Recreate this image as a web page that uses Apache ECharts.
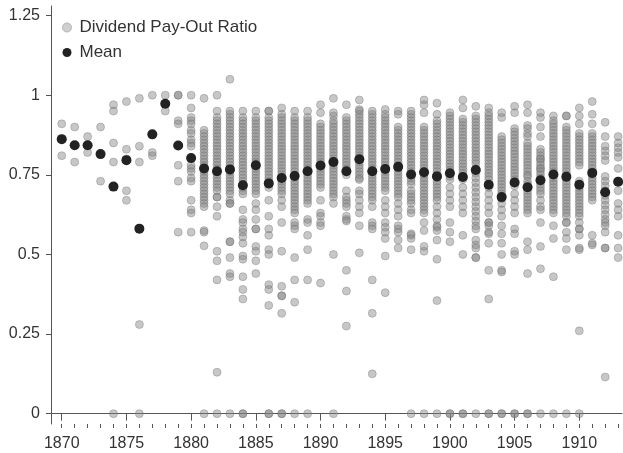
<!DOCTYPE html>
<html>
<head>
<meta charset="utf-8">
<title>Dividend Pay-Out Ratio</title>
<script src="https://cdn.jsdelivr.net/npm/echarts@6/dist/echarts.min.js"></script>
<style>
  html, body { margin: 0; padding: 0; background: #fff; }
  #chart { width: 623px; height: 453px; }
</style>
</head>
<body>
<div id="chart"></div>
<script>
// years on the x axis, one column of firms per year
const years = []
for (let y = 1870; y <= 1913; y++) years.push(y)

const yearTicks = [1870, 1875, 1880, 1885, 1890, 1895, 1900, 1905, 1910]
const ratioTicks = [0, 0.25, 0.5, 0.75, 1, 1.25]

// mean pay-out ratio per year (black dots)
const meanRatio = [
  0.862, 0.843, 0.843, 0.815, 0.713, 0.796, 0.581, 0.877, 0.973, 0.842,
  0.803, 0.770, 0.761, 0.767, 0.717, 0.780, 0.723, 0.740, 0.746, 0.761,
  0.779, 0.790, 0.761, 0.799, 0.761, 0.768, 0.775, 0.751, 0.758, 0.745,
  0.755, 0.743, 0.765, 0.719, 0.680, 0.726, 0.711, 0.733, 0.751, 0.744,
  0.719, 0.756, 0.695, 0.728
]

// individual firm ratios per year, in percent
const payoutByYear = [
  [91, 81],
  [90, 79],
  [87, 82],
  [90, 73],
  [97, 95, 85, 79, 0],
  [98, 83, 80, 70, 67],
  [99, 84, 79, 28, 0],
  [100, 82, 81],
  [100, 95],
  [100, 100, 92, 91, 78, 73, 57],
  // 1880
  [100, 96, 93, 92, 91, 89, 88, 86, 85, 84, 80, 78, 77, 76, 74, 73, 67, 64, 63, 57],
  [99, 89, 88, 87, 86, 85, 84, 83, 82, 81, 80, 79, 78, 77, 76, 75, 74, 73, 72, 71, 70, 69, 68, 67, 66, 65, 57.5, 57, 52.7, 0],
  [100, 95, 93, 92, 91, 90, 89, 88, 87, 86, 85, 84, 83, 82, 81, 80, 79, 78, 77, 76, 75, 74, 73, 72, 71, 70, 68, 68, 65, 62, 51, 48, 42, 13, 0],
  [105, 95, 94, 93, 92, 91, 90, 89, 88, 87, 86, 85, 84, 83, 82, 81, 80, 79, 78, 77, 76, 75, 74, 73, 72, 71, 70, 69, 67, 66, 66, 54, 54, 49, 44, 43, 0],
  [95, 93, 92, 91, 90, 89, 88, 87, 86, 85, 84, 83, 82, 81, 80, 79, 78, 77, 76, 75, 74, 73, 72, 71, 70, 69, 64, 61, 60, 58, 57, 55.5, 53.5, 49.5, 48.5, 43, 39, 36, 0, 0],
  [95, 93, 92, 91, 90, 89, 88, 87, 86, 85, 84, 83, 82, 81, 80, 79, 78, 77, 76, 75, 74, 73, 72, 71, 70, 69, 66, 64, 61, 58, 58, 52.5, 51, 48, 44],
  [95, 95, 93, 92, 91, 90, 89, 88, 87, 86, 85, 84, 83, 82, 81, 80, 79, 78, 77, 76, 75, 74, 73, 72, 71, 67, 62, 58, 56, 51.5, 50, 40.5, 39, 34, 0, 0],
  [96, 94, 93, 92, 91, 90, 89, 88, 87, 86, 85, 84, 83, 82, 81, 80, 79, 78, 77, 76, 75, 74, 73, 72, 71, 70, 69, 67, 65, 60, 51, 40, 37, 37, 31.5, 0, 0],
  [95, 93, 92, 91, 90, 89, 88, 87, 86, 85, 84, 83, 82, 81, 80, 79, 78, 77, 76, 75, 74, 73, 72, 71, 70, 69, 68, 67, 66, 65, 64, 63, 60, 59, 58, 49, 42, 35, 0],
  [95, 93, 92, 91, 90, 89, 88, 87, 86, 85, 84, 83, 82, 81, 80, 79, 78, 77, 76, 75, 74, 73, 72, 71, 70, 69, 68, 67, 66, 61, 60, 56, 51.5, 42, 0],
  // 1890
  [97, 94.5, 91, 90, 89, 88, 87, 86, 85, 84, 83, 82, 81, 80, 79, 78, 77, 76, 75, 74, 73, 72, 71, 67, 63, 62, 60, 59, 41],
  [99, 94.5, 93.5, 92, 91, 90, 89, 88, 87, 86, 85, 84, 83, 82, 81, 80, 79, 78, 77, 76, 75, 74, 73, 72, 71, 70, 69, 68, 66, 50, 0],
  [97, 93, 92, 91, 90, 89, 88, 87, 86, 85, 84, 83, 82, 81, 80, 79, 78, 77, 76, 75, 70, 68, 67, 66, 65, 62, 61, 60.5, 45, 38.5, 27.5],
  [98.5, 95.5, 95, 94, 93, 92, 91, 90, 89, 88, 87, 86, 85, 84, 83, 82, 81, 80, 79, 78, 77, 76, 75, 74, 73.5, 70, 69, 67, 65, 63, 59, 50.5],
  [95, 94, 93, 92, 91, 90, 89, 88, 87, 86, 85, 84, 83, 82, 81, 80, 79, 78, 77, 76, 75, 74, 73, 72, 71, 70, 69, 68, 67, 65, 60, 59, 58, 42, 31.5, 12.5],
  [95.5, 94, 93, 92, 91, 90, 89, 88, 87, 86, 85, 84, 83, 82, 81, 80, 79, 78, 77, 76, 75, 74, 73, 72, 71, 70, 67, 65, 63, 60, 58.5, 57, 55, 49.5, 38],
  [95, 94, 90, 89, 88, 87, 86, 85, 84, 83, 82, 81, 80, 79, 78, 77, 76, 75, 74, 73, 72, 71, 70, 69, 68, 66, 64, 62, 59, 58, 57, 54.5, 52],
  [95, 94, 93, 92, 91, 90, 89, 88, 87, 86, 85, 84, 83, 82, 81, 80, 79, 78, 77, 76, 74, 73, 72, 70, 69, 68, 67, 66, 64, 63, 56.5, 56, 55, 51.5, 0],
  [98.5, 97, 94.5, 90, 89, 88, 87, 86, 85, 84, 83, 82, 81, 80, 79, 78, 77, 76, 75, 74, 73, 72, 71, 70, 69, 68, 67, 66, 65, 64, 63, 60, 57.5, 52.5, 51, 0],
  [97.5, 94, 92, 91, 90, 89, 88, 87, 86, 85, 84, 83, 82, 81, 80, 79, 78, 77, 76, 75, 74, 73, 72, 71, 70, 69, 68, 67, 65, 63, 61, 59, 58.5, 57.5, 54.5, 48.5, 35.5, 0],
  // 1900
  [94.5, 93.5, 92.5, 91.5, 90.5, 89.5, 88.5, 87.5, 86.5, 85.5, 84.5, 83.5, 82.5, 81.5, 80.5, 79.5, 78.5, 77.5, 76.5, 75.5, 74.5, 73.5, 71, 69, 67, 65, 60, 57, 54, 0, 0],
  [98.5, 96, 92.5, 91.5, 90.5, 89.5, 88.5, 87.5, 86.5, 85.5, 84.5, 83.5, 82.5, 81.5, 80.5, 79.5, 78.5, 77.5, 76.5, 75.5, 74.5, 73.5, 71, 69, 67, 65, 63, 56, 50, 0, 0],
  [96.5, 93.5, 92.5, 91.5, 90.5, 89.5, 88.5, 87.5, 86.5, 85.5, 84.5, 83.5, 82.5, 81.5, 80.5, 79.5, 78.5, 77, 75.5, 74, 72.5, 71, 69.5, 68, 66.5, 65, 63.5, 62, 60.5, 59, 58, 54.5, 53, 52, 49, 49, 0],
  [96, 94.5, 93.5, 92.5, 91.5, 90.5, 89.5, 88.5, 87.5, 86.5, 85.5, 84.5, 83.5, 82.5, 81.5, 80.5, 79.5, 78.5, 77.5, 76.5, 75.5, 74.5, 73.5, 71, 69, 67, 65, 63, 60, 60, 59, 57, 56.5, 53.5, 45, 36, 0, 0],
  [94.5, 93, 87, 86, 85, 84, 83, 82, 81, 80, 79, 78, 77, 76, 75, 74, 73, 72, 71, 70, 69, 67.5, 66, 64, 62, 59, 56.5, 53.5, 50, 45, 44.5, 0, 0],
  [96.5, 94.5, 89.5, 88.5, 87.5, 86.5, 85.5, 84.5, 83.5, 82.5, 81.5, 80.5, 79.5, 78.5, 77.5, 76.5, 75.5, 74.5, 73.5, 72.5, 71.5, 69, 67, 65, 63, 58, 56.5, 51, 50, 0, 0],
  [97, 94.5, 90.5, 89.5, 88, 87, 85, 84, 83, 82, 81, 80, 79, 78, 77, 76, 75, 74.5, 73, 72, 71, 70, 69, 68, 67, 66, 65, 64, 63, 54, 51.5, 44, 0, 0],
  [94.5, 93, 90, 87, 83, 82, 81, 80, 80, 79, 78, 77, 77, 76, 75, 74, 73, 72, 71, 70, 69, 67, 65, 64, 60, 52.5, 45.5, 0],
  [93.5, 92, 91, 90, 89, 88, 87, 86, 85, 84, 83, 82, 81, 80, 79, 78, 77, 76, 74, 73, 72, 71, 70, 69, 68, 67, 66, 65, 64, 63, 59, 55, 43, 0],
  [93.5, 93.5, 90, 89, 88, 87, 86, 85, 84, 83, 82, 81, 80, 79, 78, 77, 76, 75, 74, 73, 72, 71, 70, 69, 68, 67, 66, 65, 64, 63, 62, 60, 60, 57, 55, 51.5, 0],
  // 1910
  [96, 93.5, 91, 88, 87, 86, 85, 84, 83, 82, 81, 80, 79, 78, 73, 72, 71, 70, 69, 68, 67, 66, 65, 64, 63, 62, 60, 58, 58, 56, 52, 51.5, 26, 0],
  [98, 94, 91, 88, 87, 86, 85, 84, 83, 82, 81, 80, 79, 78, 77, 76, 75, 74, 73, 72, 71, 70, 69, 68, 67, 56, 53.5, 53],
  [91.5, 87, 84, 82.5, 81, 79.5, 74.5, 73, 71.5, 70, 68.5, 67, 65.5, 64, 62.5, 61, 60, 59, 57, 52, 52, 11.5],
  [87, 85, 83.5, 82, 80.5, 77, 73, 70, 66, 64, 62, 56, 52, 49]
]

const payoutPoints = []
payoutByYear.forEach((list, i) => {
  list.forEach(v => payoutPoints.push([years[i], v / 100]))
})
const meanPoints = years.map((y, i) => [y, meanRatio[i]])

const font = 'Liberation Sans, Arial, sans-serif'
const axisColor = '#555'

const chart = echarts.init(document.getElementById('chart'))
chart.setOption({
  animation: false,
  textStyle: { fontFamily: font },
  grid: { left: 51, top: 6, width: 571, height: 418, containLabel: false },
  legend: {
    orient: 'vertical',
    left: 62,
    top: 19,
    padding: 0,
    itemGap: 8,
    itemWidth: 11,
    itemHeight: 9,
    textStyle: { fontSize: 17, color: '#333', fontFamily: font, padding: [0, 0, 0, 2] },
    data: [
      { name: 'Dividend Pay-Out Ratio', icon: 'circle', itemStyle: { color: '#cfcfcf', borderColor: '#b5b5b5', borderWidth: 1 } },
      { name: 'Mean', icon: 'circle' }
    ]
  },
  xAxis: [
    {
      type: 'value',
      min: 1869.17,
      max: 1913.3,
      axisLine: { lineStyle: { color: axisColor, width: 1 } },
      axisTick: { customValues: yearTicks, length: 7, lineStyle: { color: axisColor } },
      axisLabel: {
        customValues: yearTicks,
        formatter: v => String(v),
        fontSize: 16,
        color: '#333',
        margin: 12
      },
      splitLine: { show: false }
    },
    {
      type: 'value',
      min: 1869.17,
      max: 1913.3,
      position: 'bottom',
      axisLine: { show: false },
      axisTick: { customValues: years, length: 4, lineStyle: { color: axisColor } },
      axisLabel: { show: false },
      splitLine: { show: false }
    }
  ],
  yAxis: {
    type: 'value',
    min: -0.0324,
    max: 1.28,
    axisLine: { show: true, lineStyle: { color: axisColor, width: 1 } },
    axisTick: { show: true, customValues: ratioTicks, length: 5, lineStyle: { color: axisColor } },
    axisLabel: {
      customValues: ratioTicks,
      formatter: v => String(v),
      fontSize: 16,
      color: '#333',
      margin: 11
    },
    splitLine: { show: false }
  },
  series: [
    {
      name: 'Dividend Pay-Out Ratio',
      type: 'scatter',
      data: payoutPoints,
      symbolSize: 8,
      itemStyle: {
        color: 'rgba(130,130,130,0.45)',
        borderColor: 'rgba(110,110,110,0.35)',
        borderWidth: 1,
        opacity: 1
      }
    },
    {
      name: 'Mean',
      type: 'scatter',
      data: meanPoints,
      symbolSize: 10,
      itemStyle: { color: '#222', opacity: 1 },
      z: 3
    }
  ]
})
</script>
</body>
</html>
